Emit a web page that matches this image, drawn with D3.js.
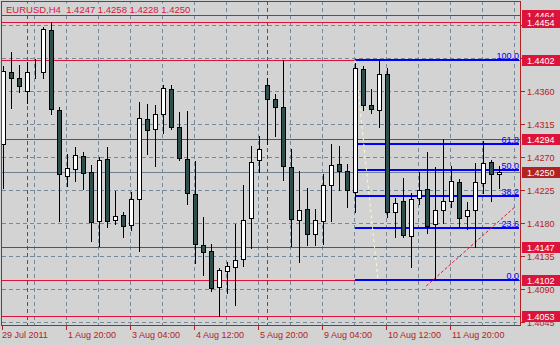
<!DOCTYPE html>
<meta charset="utf-8">
<script src="https://d3js.org/d3.v7.min.js"></script>
<style>
    body { margin: 0; background: #d3d3d3; }
    svg { display: block; }
    text { font-family: "Liberation Sans", Arial, sans-serif; }
</style>
<body>
<svg width="560" height="345" class="chart"></svg>
</body>
<script>
    // H4 bars, 29 Jul 2011 12:00 .. 12 Aug 2011 20:00
    const opens = [1.4288, 1.4386, 1.4378, 1.4360, 1.4386, 1.4386, 1.4443, 1.4334, 1.4244, 1.4254,
        1.4271, 1.4250, 1.4183, 1.4267, 1.4184, 1.4191, 1.4177, 1.4213, 1.4322, 1.4308,
        1.4329, 1.4363, 1.4311, 1.4267, 1.4220, 1.4150, 1.4142, 1.4093, 1.4115, 1.4120,
        1.4131, 1.4187, 1.4266, 1.4368, 1.4349, 1.4338, 1.4256, 1.4184, 1.4199, 1.4165,
        1.4183, 1.4232, 1.4260, 1.4251, 1.4222, 1.4390, 1.4341, 1.4334, 1.4383, 1.4195,
        1.4210, 1.4162, 1.4214, 1.4226, 1.4179, 1.4198, 1.4210, 1.4236, 1.4190, 1.4198,
        1.4235, 1.4263, 1.4247];
    const highs = [1.4394, 1.4413, 1.4395, 1.4400, 1.4404, 1.4447, 1.4454, 1.4338, 1.4274, 1.4284,
        1.4277, 1.4259, 1.4270, 1.4284, 1.4224, 1.4195, 1.4222, 1.4345, 1.4342, 1.4341,
        1.4368, 1.4368, 1.4331, 1.4333, 1.4265, 1.4188, 1.4151, 1.4119, 1.4127, 1.4179,
        1.4232, 1.4285, 1.4299, 1.4378, 1.4356, 1.4402, 1.4281, 1.4251, 1.4228, 1.4199,
        1.4247, 1.4288, 1.4285, 1.4260, 1.4398, 1.4394, 1.4363, 1.4402, 1.4391, 1.4214,
        1.4241, 1.4221, 1.4250, 1.4277, 1.4256, 1.4295, 1.4258, 1.4240, 1.4209, 1.4262,
        1.4292, 1.4266, 1.4258];
    const lows = [1.4228, 1.4337, 1.4359, 1.4344, 1.4378, 1.4378, 1.4329, 1.4183, 1.4230, 1.4237,
        1.4226, 1.4155, 1.4149, 1.4175, 1.4179, 1.4161, 1.4170, 1.4142, 1.4274, 1.4258,
        1.4303, 1.4308, 1.4266, 1.4206, 1.4125, 1.4109, 1.4087, 1.4053, 1.4085, 1.4068,
        1.4121, 1.4146, 1.4250, 1.4288, 1.4299, 1.4239, 1.4149, 1.4127, 1.4150, 1.4150,
        1.4151, 1.4183, 1.4225, 1.4202, 1.4195, 1.4334, 1.4330, 1.4311, 1.4188, 1.4161,
        1.4161, 1.4120, 1.4206, 1.4166, 1.4102, 1.4180, 1.4202, 1.4175, 1.4172, 1.4147,
        1.4221, 1.4210, 1.4228];
    const closes = [1.4387, 1.4378, 1.4367, 1.4386, 1.4386, 1.4445, 1.4335, 1.4247, 1.4255, 1.4273,
        1.4248, 1.4181, 1.4266, 1.4183, 1.4190, 1.4176, 1.4213, 1.4323, 1.4307, 1.4329,
        1.4364, 1.4311, 1.4269, 1.4221, 1.4151, 1.4140, 1.4091, 1.4116, 1.4121, 1.4130,
        1.4184, 1.4263, 1.4281, 1.4349, 1.4338, 1.4258, 1.4185, 1.4198, 1.4165, 1.4184,
        1.4232, 1.4259, 1.4251, 1.4225, 1.4391, 1.4341, 1.4335, 1.4383, 1.4195, 1.4207,
        1.4164, 1.4213, 1.4225, 1.4176, 1.4198, 1.4210, 1.4237, 1.4187, 1.4198, 1.4236,
        1.4262, 1.4247, 1.4250];

    const timeTickBars = [0, 8, 16, 24, 32, 40, 48, 56];
    const timeTickLabels = ['29 Jul 2011', '1 Aug 20:00', '3 Aug 04:00', '4 Aug 12:00',
        '5 Aug 20:00', '9 Aug 04:00', '10 Aug 12:00', '11 Aug 20:00'];
    const priceTicks = [1.4045, 1.4090, 1.4135, 1.4180, 1.4225, 1.4270, 1.4315, 1.4360, 1.4405, 1.4450];
    // labels under the 1.4402 / 1.4454 boxes are not readable in the original
    const priceTickLabels = [1.4045, 1.4090, 1.4135, 1.4180, 1.4225, 1.4270, 1.4315, 1.4360];
    const gridBars = [4, 8, 12, 16, 20, 24, 28, 32, 36, 40, 44, 48, 52, 56, 60, 64];
    const weekSeparators = [3, 33];

    const levelLines = [1.4464, 1.4454, 1.4402, 1.4294, 1.4147, 1.4102, 1.4053];
    const bidPrice = 1.4250;

    const fibLevels = [0, 23.6, 38.2, 50.0, 61.8, 100.0];
    const fibHigh = 1.4402, fibLow = 1.4102;
    const fibBars = [44, 47];
    const trendBars = [52.9, 64.1];
    const trendPrices = [1.4094, 1.4203];

    const title = 'EURUSD,H4  1.4247 1.4258 1.4228 1.4250';

    const plotL = 2, plotR = 521, plotT = 1, plotB = 326;

    const svg = d3.select('.chart');
    const x = d3.scaleLinear().domain([0, 62]).range([3, 499]);
    const y = d3.scaleLinear().domain([1.4045, 1.4450]).range([322, 25]);
    const px = v => Math.round(x(v)) + 0.5;
    const py = v => Math.round(y(v)) + 0.5;

    svg.append('rect').attr('width', 560).attr('height', 345).attr('fill', '#d3d3d3');

    svg.append('clipPath').attr('id', 'plot')
        .append('rect').attr('x', plotL).attr('y', plotT + 1)
        .attr('width', plotR - plotL).attr('height', plotB - plotT - 1);

    const plot = svg.append('g').attr('clip-path', 'url(#plot)');

    // grid
    plot.selectAll('.hgrid').data(priceTicks).enter().append('line')
        .attr('x1', plotL).attr('x2', plotR)
        .attr('y1', d => py(d)).attr('y2', d => py(d))
        .attr('stroke', '#778899').attr('stroke-dasharray', '4,3');
    plot.selectAll('.vgrid').data(gridBars).enter().append('line')
        .attr('x1', d => px(d) - 1).attr('x2', d => px(d) - 1)
        .attr('y1', plotT).attr('y2', plotB)
        .attr('stroke', '#778899').attr('stroke-dasharray', '4,3');
    plot.selectAll('.sep').data(weekSeparators).enter().append('line')
        .attr('x1', d => px(d)).attr('x2', d => px(d))
        .attr('y1', plotT).attr('y2', plotB)
        .attr('stroke', '#dc143c').attr('stroke-dasharray', '4,3');

    // horizontal levels
    plot.selectAll('.lvl').data(levelLines).enter().append('line')
        .attr('x1', plotL).attr('x2', plotR)
        .attr('y1', d => py(d)).attr('y2', d => py(d))
        .attr('stroke', '#dc143c');
    plot.append('line')
        .attr('x1', plotL).attr('x2', plotR)
        .attr('y1', py(bidPrice)).attr('y2', py(bidPrice))
        .attr('stroke', '#708090');

    // fibonacci
    const fibPrice = l => fibLow + (fibHigh - fibLow) * l / 100;
    plot.selectAll('.fib').data(fibLevels).enter().append('line')
        .attr('x1', x(fibBars[0])).attr('x2', 519)
        .attr('y1', d => Math.round(y(fibPrice(d)))).attr('y2', d => Math.round(y(fibPrice(d))))
        .attr('stroke', '#0000ff').attr('stroke-width', 2);
    plot.append('line')
        .attr('x1', x(fibBars[0])).attr('y1', y(fibHigh))
        .attr('x2', x(fibBars[1]) - 1).attr('y2', y(fibLow))
        .attr('stroke', '#fffacd').attr('stroke-dasharray', '3,3');
    plot.selectAll('.fibtxt').data(fibLevels).enter().append('text')
        .attr('x', 519).attr('y', d => Math.round(y(fibPrice(d))) - 1.5)
        .attr('text-anchor', 'end').attr('font-size', 9).attr('fill', '#0000ff')
        .text(d => d.toFixed(1));

    // trend line
    plot.append('line')
        .attr('x1', x(trendBars[0])).attr('y1', y(trendPrices[0]))
        .attr('x2', x(trendBars[1])).attr('y2', y(trendPrices[1]))
        .attr('stroke', '#dc143c').attr('stroke-dasharray', '3,2');

    // candles
    const bars = opens.map((o, i) => ({ i, o, h: highs[i], l: lows[i], c: closes[i] }));
    const candle = plot.selectAll('.candle').data(bars).enter().append('g');
    candle.append('line')
        .attr('x1', d => px(d.i)).attr('x2', d => px(d.i))
        .attr('y1', d => Math.round(y(d.h))).attr('y2', d => Math.round(y(d.l)) + 1)
        .attr('stroke', '#000');
    candle.append('rect')
        .attr('x', d => px(d.i) - 2)
        .attr('y', d => py(Math.max(d.o, d.c)))
        .attr('width', 4)
        .attr('height', d => py(Math.min(d.o, d.c)) - py(Math.max(d.o, d.c)))
        .attr('fill', d => d.c >= d.o ? '#ffffff' : '#2f4f4f')
        .attr('stroke', '#000');

    // frame
    svg.append('rect')
        .attr('x', plotL - 0.5).attr('y', plotT + 0.5)
        .attr('width', plotR - plotL).attr('height', plotB - plotT - 1)
        .attr('fill', 'none').attr('stroke', '#b22222');

    // price axis
    svg.selectAll('.ptick').data(priceTicks).enter().append('line')
        .attr('x1', plotR).attr('x2', plotR + 4)
        .attr('y1', d => py(d)).attr('y2', d => py(d))
        .attr('stroke', '#b22222');
    svg.selectAll('.plabel').data(priceTickLabels).enter().append('text')
        .attr('x', 527).attr('y', d => y(d) + 3.5)
        .attr('font-size', 9).attr('fill', '#b22222')
        .text(d => d.toFixed(4));

    const boxes = levelLines.map(p => ({ p, fill: '#dc143c' }))
        .concat([{ p: bidPrice, fill: '#b22222' }]);
    const box = svg.selectAll('.box').data(boxes).enter().append('g');
    box.append('rect')
        .attr('x', 522).attr('y', d => Math.round(y(d.p)) - 5)
        .attr('width', 38).attr('height', 11)
        .attr('fill', d => d.fill);
    box.append('text')
        .attr('x', 527).attr('y', d => Math.round(y(d.p)) + 4)
        .attr('font-size', 9).attr('fill', '#fff')
        .text(d => d.p.toFixed(4));

    // time axis
    svg.selectAll('.ttick').data(timeTickBars).enter().append('line')
        .attr('x1', d => px(d) - 1).attr('x2', d => px(d) - 1)
        .attr('y1', plotB).attr('y2', plotB + 4)
        .attr('stroke', '#b22222');
    svg.selectAll('.tlabel').data(timeTickBars).enter().append('text')
        .attr('x', d => x(d) + (d === 0 ? -1 : 1)).attr('y', 338)
        .attr('font-size', 9).attr('fill', '#b22222')
        .text((d, i) => timeTickLabels[i]);

    // title, on a background patch that hides the level line behind it
    const titleGrp = svg.append('g');
    const titleBg = titleGrp.append('rect').attr('fill', '#d3d3d3');
    const titleText = titleGrp.append('text')
        .attr('x', 6).attr('y', 12.5)
        .attr('font-size', 9.5).attr('fill', '#dc143c')
        .style('white-space', 'pre')
        .text(title);
    const bb = titleText.node().getBBox();
    titleBg
        .attr('x', bb.x).attr('y', bb.y)
        .attr('width', bb.width + 1).attr('height', bb.height);
</script>
